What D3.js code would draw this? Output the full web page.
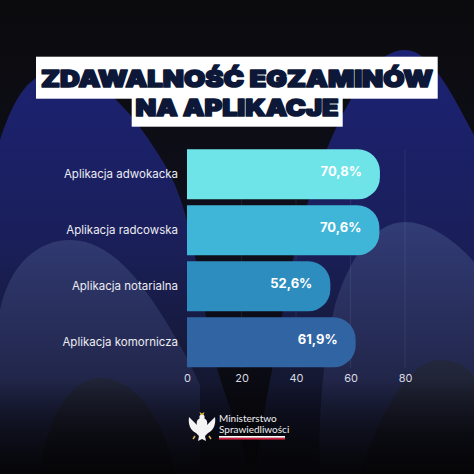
<!DOCTYPE html>
<html>
<head>
<meta charset="utf-8">
<script src="https://cdn.jsdelivr.net/npm/d3@7"></script>
<style>
html,body{margin:0;padding:0;background:#0a0a0c;}
svg{display:block;}
</style>
</head>
<body>
<script>
const categories = ["Aplikacja adwokacka", "Aplikacja radcowska", "Aplikacja notarialna", "Aplikacja komornicza"];
const values = [70.8, 70.6, 52.6, 61.9];
const valueLabels = ["70,8%", "70,6%", "52,6%", "61,9%"];
const barColors = ["#6ee3e8", "#3fb6d8", "#2e8dbf", "#3064a3"];
const ticks = [0, 20, 40, 60, 80];
const titleLines = ["ZDAWALNOŚĆ EGZAMINÓW", "NA APLIKACJE"];
const logoLines = ["Ministerstwo", "Sprawiedliwości"];

const W = 474, H = 474;
const svg = d3.select("body").append("svg").attr("width", W).attr("height", H);
const defs = svg.append("defs");

function vgrad(id, stops, y1, y2) {
  const g = defs.append("linearGradient").attr("id", id)
    .attr("gradientUnits", "userSpaceOnUse").attr("x1", 0).attr("x2", 0).attr("y1", y1).attr("y2", y2);
  stops.forEach(s => g.append("stop").attr("offset", s[0]).attr("stop-color", s[1]).attr("stop-opacity", s[2] == null ? 1 : s[2]));
}
vgrad("bg", [[0, "#0b0b0d"], [0.5, "#0e0f1c"], [1, "#08080c"]], 0, 474);
vgrad("navy", [[0, "#1c2274"], [0.45, "#1a1f5a"], [0.75, "#151935"], [1, "#0c0d18"]], 50, 474);
vgrad("hill", [[0, "#323c76"], [0.5, "#252b54"], [1, "#141629"]], 220, 474);
vgrad("lowhill", [[0, "#24283d"], [1, "#0e0f18"]], 360, 474);
vgrad("fade", [[0, "#000", 0], [1, "#050507", 0.95]], 380, 474);

// background
svg.append("rect").attr("width", W).attr("height", H).attr("fill", "url(#bg)");
const bgPaths = [
  ["M0,140 C15,95 30,72 58,72 C100,72 135,115 165,165 C195,215 200,300 215,360 C225,400 240,430 250,474 L0,474 Z", "url(#navy)"],
  ["M474,135 C450,90 430,50 405,50 C380,50 360,80 340,120 C310,180 290,260 280,330 C270,380 260,430 255,474 L474,474 Z", "url(#navy)"],
  ["M0,310 C10,262 40,240 70,240 C110,240 140,280 165,320 C180,345 190,362 200,385 L200,474 L0,474 Z", "url(#hill)"],
  ["M474,262 C450,235 425,222 405,222 C372,222 348,262 335,305 C322,360 318,420 320,474 L474,474 Z", "url(#hill)"],
  ["M40,474 C45,420 70,378 100,378 C135,378 165,420 175,474 Z", "url(#lowhill)"],
  ["M360,474 C380,410 410,360 440,360 C460,360 474,372 474,380 L474,474 Z", "url(#lowhill)"]
];
svg.append("g").selectAll("path").data(bgPaths).join("path")
  .attr("d", d => d[0]).attr("fill", d => d[1]);
svg.append("rect").attr("y", 380).attr("width", W).attr("height", 94).attr("fill", "url(#fade)");

// title
const title = svg.append("g");
title.append("rect").attr("x", 36).attr("y", 56.7).attr("width", 401.7).attr("height", 42).attr("fill", "#ffffff");
title.append("rect").attr("x", 131.7).attr("y", 98).attr("width", 211).attr("height", 28.7).attr("fill", "#ffffff");
const titleSpec = [{x: 41, y: 87, len: 392}, {x: 135.5, y: 115.8, len: 203}];
title.selectAll("text").data(titleLines).join("text")
  .attr("x", (d, i) => titleSpec[i].x).attr("y", (d, i) => titleSpec[i].y)
  .attr("textLength", (d, i) => titleSpec[i].len).attr("lengthAdjust", "spacingAndGlyphs")
  .attr("font-family", "Inter, 'DejaVu Sans', sans-serif").attr("font-weight", 900)
  .attr("font-size", 23.5).attr("fill", "#0d1838")
  .attr("stroke", "#0d1838").attr("stroke-width", 1.7).attr("stroke-linejoin", "round")
  .text(d => d);

// chart
const x = d3.scaleLinear().domain([0, 80]).range([187, 405]);
const y = d3.scaleBand().domain(categories).range([146.3, 370.3]).paddingInner(6 / 56).paddingOuter(3 / 56);

// gridlines
svg.append("g").selectAll("line").data(ticks.filter(t => t > 0)).join("line")
  .attr("x1", d => x(d)).attr("x2", d => x(d)).attr("y1", 150).attr("y2", 368)
  .attr("stroke", "#ffffff").attr("stroke-opacity", 0.07).attr("stroke-width", 1);

const rows = categories.map((c, i) => ({c, v: values[i], label: valueLabels[i], color: barColors[i]}));
const r = 22;
function barPath(d) {
  const x0 = x(0), x1 = x(d.v), y0 = y(d.c), h = y.bandwidth();
  return `M${x0},${y0} H${x1 - r} A${r},${r} 0 0 1 ${x1},${y0 + r} V${y0 + h - r} A${r},${r} 0 0 1 ${x1 - r},${y0 + h} H${x0} Z`;
}
svg.append("g").selectAll("path").data(rows).join("path")
  .attr("d", barPath).attr("fill", d => d.color);

svg.append("g").selectAll("text").data(rows).join("text")
  .attr("x", d => x(d.v) - 18).attr("y", d => y(d.c) + y.bandwidth() / 2 + 1.5)
  .attr("text-anchor", "end").attr("font-family", "Inter, 'DejaVu Sans', sans-serif")
  .attr("font-weight", 700).attr("font-size", 13).attr("fill", "#ffffff").text(d => d.label);

// category axis
const yAxis = svg.append("g").attr("transform", `translate(${x(0)},0)`)
  .call(d3.axisLeft(y).tickSize(0).tickPadding(9));
yAxis.select(".domain").remove();
yAxis.selectAll("text").attr("font-family", "Inter, 'DejaVu Sans', sans-serif")
  .attr("font-size", 11.5).attr("fill", "#ececf2");

// x axis
const xAxis = svg.append("g").attr("transform", `translate(0,370)`)
  .call(d3.axisBottom(x).tickValues(ticks).tickSize(0).tickPadding(4).tickFormat(d3.format("d")));
xAxis.select(".domain").remove();
xAxis.selectAll("text").attr("font-family", "Inter, 'DejaVu Sans', sans-serif")
  .attr("font-size", 11).attr("fill", "#d8d9e2");

// logo
const logo = svg.append("g");
const eagle = logo.append("g").attr("fill", "#f4f4f4");
eagle.append("path").attr("d", "M202,418 C198,418 196,421 197,425 L189,417 C188,424 190,430 196,433 L199,436 L198,441 L202,439 L206,441 L205,436 L208,433 C214,430 216,424 215,417 L207,425 C208,421 206,418 202,418 Z");
eagle.append("circle").attr("cx", 202).attr("cy", 417).attr("r", 2.6);
logo.append("path").attr("d", "M199.5,412 L200.5,415 L203.5,415 L204.5,412 L202,413.5 Z").attr("fill", "#d9b84a");
logo.append("path").attr("d", "M195,436 L193,439 M209,436 L211,439").attr("stroke", "#d9b84a").attr("stroke-width", 1.5);
logo.selectAll("text").data(logoLines).join("text")
  .attr("x", 219).attr("y", (d, i) => 422 + i * 10.5)
  .attr("font-family", "Lato, 'Open Sans', sans-serif").attr("font-size", 10)
  .attr("fill", "#f0f0f2").text(d => d);
logo.append("rect").attr("x", 219).attr("y", 436).attr("width", 66).attr("height", 1.8).attr("fill", "#ffffff");
logo.append("rect").attr("x", 219).attr("y", 437.8).attr("width", 66).attr("height", 1.8).attr("fill", "#d4213d");
</script>
</body>
</html>
